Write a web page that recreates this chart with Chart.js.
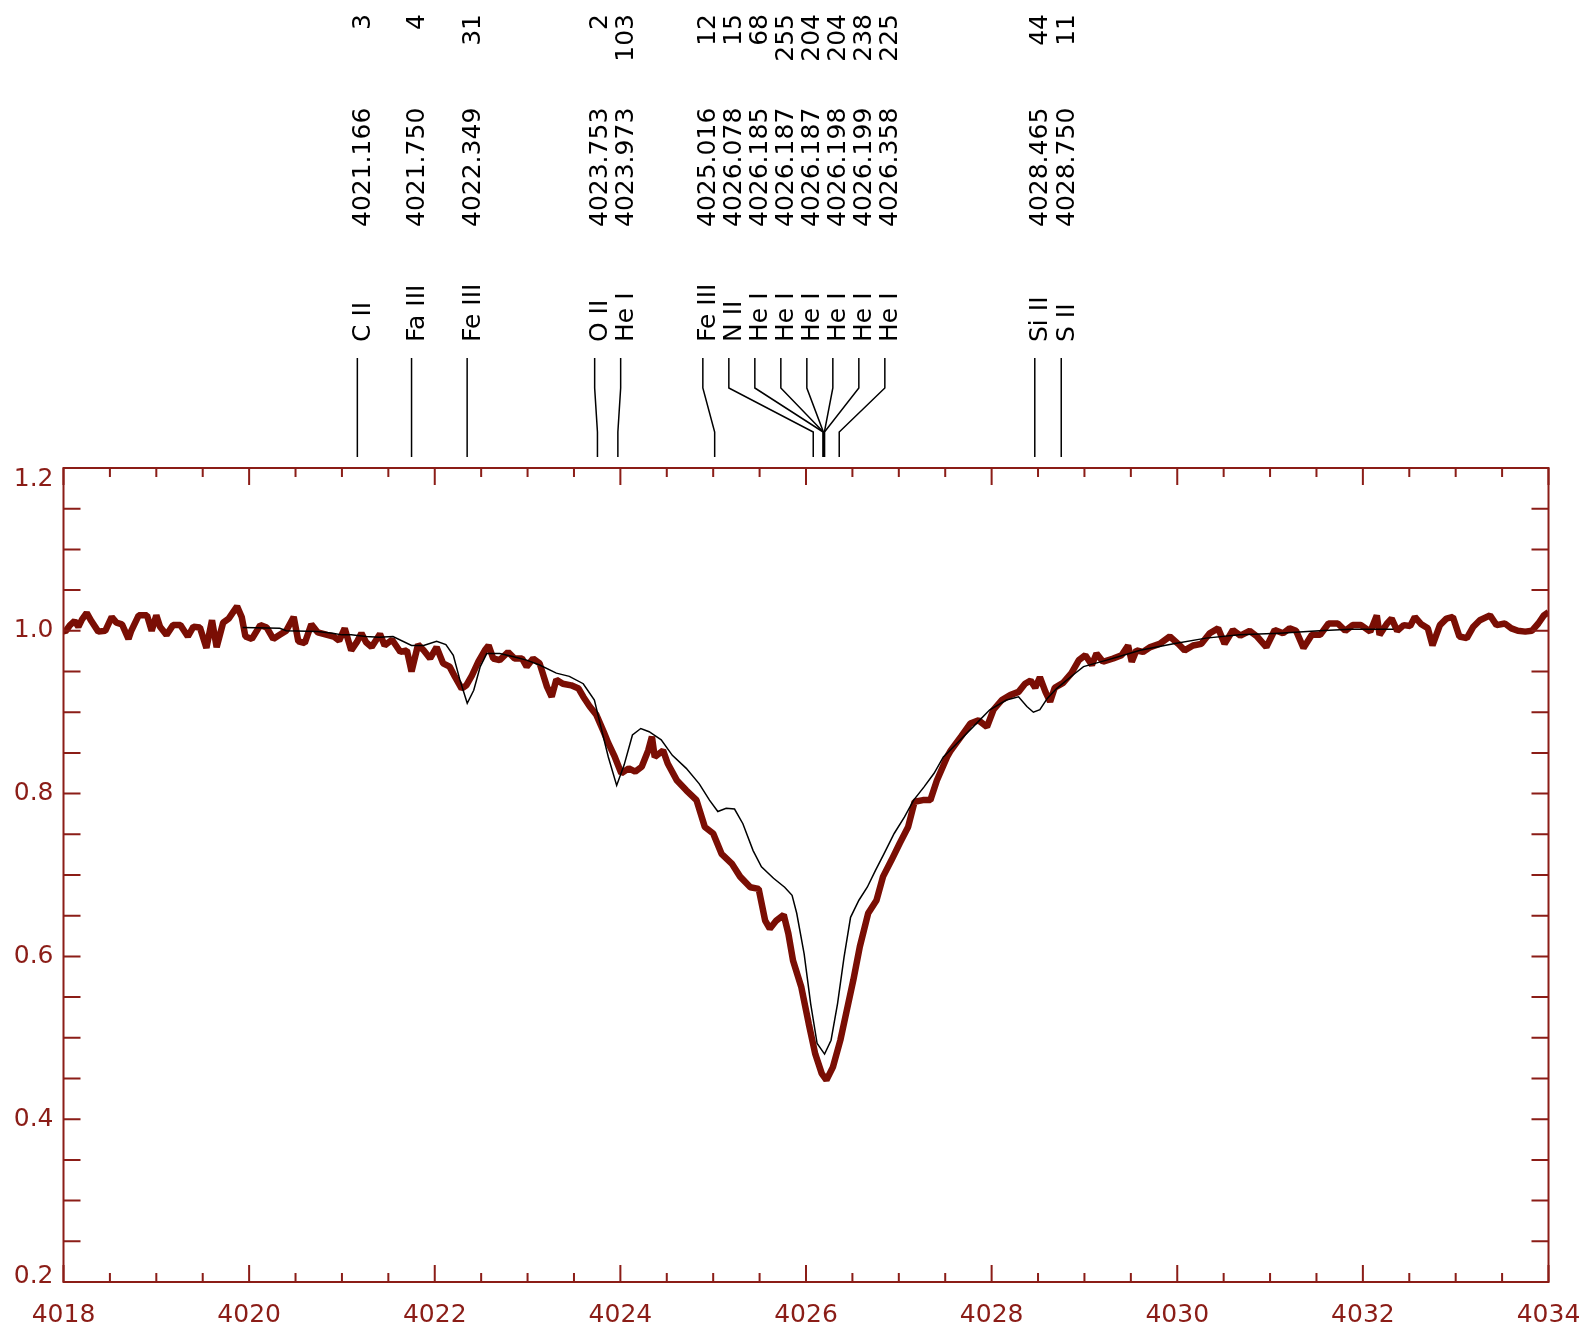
<!DOCTYPE html>
<html>
<head>
<meta charset="utf-8">
<title>He I 4026 line profile</title>
<script src="https://cdn.jsdelivr.net/npm/chart.js@4/dist/chart.umd.min.js"></script>
<style>
    html, body { margin: 0; padding: 0; background: #ffffff; }
    #wrap { width: 1589px; height: 1329px; }
</style>
</head>
<body>
<div id="wrap"><canvas id="spectrumChart" width="1589" height="1329"></canvas></div>
<script>
// Observed spectrum (thick red)
var obsWave = [
    4018.00, 4018.02, 4018.07, 4018.12, 4018.16, 4018.20, 4018.25, 4018.30, 4018.375, 4018.45,
    4018.52, 4018.57, 4018.63, 4018.70, 4018.73, 4018.81, 4018.90, 4018.95, 4019.00, 4019.04,
    4019.11, 4019.18, 4019.26, 4019.34, 4019.40, 4019.47, 4019.54, 4019.60, 4019.65, 4019.72,
    4019.78, 4019.87, 4019.92, 4019.96, 4020.03, 4020.12, 4020.19, 4020.26, 4020.33, 4020.40,
    4020.48, 4020.53, 4020.60, 4020.67, 4020.74, 4020.84, 4020.91, 4020.97, 4021.03, 4021.10,
    4021.16, 4021.21, 4021.26, 4021.32, 4021.41, 4021.46, 4021.54, 4021.63, 4021.70, 4021.75,
    4021.82, 4021.88, 4021.95, 4022.02, 4022.09, 4022.16, 4022.22, 4022.29, 4022.34, 4022.40,
    4022.47, 4022.54, 4022.58, 4022.63, 4022.70, 4022.79, 4022.86, 4022.94, 4022.99, 4023.06,
    4023.13, 4023.21, 4023.26, 4023.31, 4023.38, 4023.47, 4023.55, 4023.60, 4023.67, 4023.74,
    4023.82, 4023.87, 4023.94, 4024.01, 4024.09, 4024.16, 4024.23, 4024.30, 4024.34, 4024.37,
    4024.46, 4024.51, 4024.61, 4024.71, 4024.82, 4024.91, 4025.00, 4025.09, 4025.20, 4025.29,
    4025.40, 4025.49, 4025.56, 4025.61, 4025.68, 4025.76, 4025.81, 4025.86, 4025.95, 4026.03,
    4026.10, 4026.17, 4026.22, 4026.29, 4026.37, 4026.44, 4026.51, 4026.58, 4026.67, 4026.76,
    4026.83, 4026.92, 4027.01, 4027.10, 4027.17, 4027.26, 4027.34, 4027.41, 4027.52, 4027.56,
    4027.67, 4027.77, 4027.86, 4027.95, 4028.02, 4028.11, 4028.20, 4028.29, 4028.36, 4028.42,
    4028.47, 4028.52, 4028.58, 4028.63, 4028.68, 4028.77, 4028.86, 4028.94, 4029.01, 4029.08,
    4029.13, 4029.20, 4029.31, 4029.40, 4029.47, 4029.51, 4029.56, 4029.63, 4029.71, 4029.81,
    4029.92, 4030.01, 4030.08, 4030.17, 4030.26, 4030.35, 4030.44, 4030.51, 4030.60, 4030.68,
    4030.78, 4030.86, 4030.96, 4031.05, 4031.14, 4031.21, 4031.28, 4031.36, 4031.45, 4031.54,
    4031.63, 4031.73, 4031.81, 4031.89, 4031.98, 4032.08, 4032.15, 4032.18, 4032.26, 4032.31,
    4032.37, 4032.44, 4032.51, 4032.56, 4032.63, 4032.70, 4032.75, 4032.83, 4032.90, 4032.97,
    4033.04, 4033.12, 4033.19, 4033.26, 4033.37, 4033.44, 4033.53, 4033.60, 4033.67, 4033.75,
    4033.82, 4033.89, 4033.95, 4034.00
];
var obsFlux = [
    1.000, 0.999, 1.007, 1.012, 1.005, 1.014, 1.022, 1.012, 0.999, 1.000,
    1.017, 1.010, 1.008, 0.990, 1.000, 1.019, 1.019, 1.000, 1.019, 1.005,
    0.995, 1.007, 1.007, 0.993, 1.005, 1.004, 0.979, 1.013, 0.980, 1.010,
    1.015, 1.030, 1.017, 0.993, 0.990, 1.007, 1.004, 0.990, 0.995, 1.000,
    1.017, 0.987, 0.985, 1.008, 0.998, 0.995, 0.993, 0.988, 1.003, 0.976,
    0.986, 0.997, 0.986, 0.980, 0.996, 0.982, 0.989, 0.974, 0.976, 0.950,
    0.983, 0.976, 0.966, 0.980, 0.960, 0.956, 0.943, 0.929, 0.933, 0.945,
    0.962, 0.976, 0.982, 0.966, 0.964, 0.974, 0.966, 0.966, 0.956, 0.966,
    0.960, 0.931, 0.919, 0.940, 0.935, 0.933, 0.929, 0.919, 0.907, 0.897,
    0.876, 0.862, 0.845, 0.825, 0.831, 0.827, 0.833, 0.853, 0.870, 0.845,
    0.853, 0.837, 0.816, 0.804, 0.792, 0.759, 0.751, 0.726, 0.714, 0.698,
    0.685, 0.683, 0.644, 0.634, 0.644, 0.651, 0.628, 0.595, 0.562, 0.517,
    0.480, 0.456, 0.448, 0.464, 0.497, 0.534, 0.571, 0.612, 0.653, 0.669,
    0.698, 0.718, 0.739, 0.759, 0.790, 0.792, 0.792, 0.816, 0.845, 0.853,
    0.870, 0.886, 0.890, 0.882, 0.903, 0.915, 0.921, 0.925, 0.935, 0.939,
    0.930, 0.943, 0.925, 0.913, 0.930, 0.936, 0.948, 0.964, 0.970, 0.958,
    0.972, 0.962, 0.966, 0.970, 0.982, 0.962, 0.976, 0.974, 0.980, 0.984,
    0.993, 0.984, 0.976, 0.982, 0.984, 0.997, 1.003, 0.984, 1.001, 0.994,
    1.000, 0.993, 0.980, 1.001, 0.997, 1.003, 1.000, 0.979, 0.995, 0.995,
    1.009, 1.009, 1.000, 1.007, 1.007, 0.999, 1.019, 0.995, 1.009, 1.015,
    1.000, 1.007, 1.006, 1.017, 1.008, 1.003, 0.982, 1.007, 1.015, 1.017,
    0.993, 0.991, 1.005, 1.013, 1.019, 1.007, 1.009, 1.003, 1.000, 0.999,
    1.000, 1.009, 1.019, 1.023
];

// Synthetic spectrum (thin black)
var modelWave = [
    4019.93, 4020.33, 4020.40, 4020.74, 4020.90, 4021.00, 4021.10, 4021.26, 4021.40, 4021.55,
    4021.75, 4021.88, 4022.02, 4022.12, 4022.20, 4022.27, 4022.35, 4022.42, 4022.49, 4022.56,
    4022.70, 4022.85, 4022.99, 4023.13, 4023.31, 4023.45, 4023.60, 4023.72, 4023.79, 4023.87,
    4023.96, 4024.04, 4024.13, 4024.22, 4024.31, 4024.44, 4024.56, 4024.71, 4024.85, 4024.96,
    4025.05, 4025.14, 4025.23, 4025.32, 4025.43, 4025.52, 4025.65, 4025.77, 4025.85, 4025.90,
    4025.98, 4026.05, 4026.12, 4026.20, 4026.27, 4026.34, 4026.41, 4026.48, 4026.57, 4026.66,
    4026.75, 4026.84, 4026.95, 4027.06, 4027.16, 4027.27, 4027.38, 4027.48, 4027.62, 4027.80,
    4027.98, 4028.16, 4028.29, 4028.38, 4028.45, 4028.52, 4028.60, 4028.70, 4028.88, 4028.99,
    4029.24, 4029.42, 4029.60, 4029.96, 4030.31, 4030.67, 4031.10, 4031.53, 4031.86, 4032.33
];
var modelFlux = [
    1.004, 1.003, 1.000, 0.999, 0.997, 0.995, 0.995, 0.993, 0.992, 0.993,
    0.982, 0.982, 0.987, 0.983, 0.970, 0.940, 0.911, 0.927, 0.956, 0.972,
    0.972, 0.968, 0.964, 0.958, 0.948, 0.944, 0.935, 0.915, 0.882, 0.845,
    0.810, 0.835, 0.872, 0.880, 0.876, 0.866, 0.847, 0.831, 0.812, 0.792,
    0.778, 0.782, 0.781, 0.763, 0.730, 0.710, 0.696, 0.685, 0.675, 0.653,
    0.603, 0.542, 0.493, 0.480, 0.497, 0.542, 0.599, 0.648, 0.669, 0.685,
    0.706, 0.726, 0.751, 0.771, 0.792, 0.808, 0.825, 0.845, 0.861, 0.882,
    0.903, 0.915, 0.919, 0.907, 0.900, 0.903, 0.917, 0.929, 0.946, 0.956,
    0.964, 0.970, 0.976, 0.984, 0.991, 0.995, 0.997, 1.000, 1.002, 1.002
];

// Line identifications
var lineSpecies = ["C II", "Fa III", "Fe III", "O II", "He I", "Fe III", "N II",
    "He I", "He I", "He I", "He I", "He I", "He I", "Si II", "S II"];
var lineWave = [4021.166, 4021.750, 4022.349, 4023.753, 4023.973, 4025.016, 4026.078,
    4026.185, 4026.187, 4026.187, 4026.198, 4026.199, 4026.358, 4028.465, 4028.750];
var lineStrength = ["3", "4", "31", "2", "103", "12", "15", "68", "255", "204", "204", "238", "225", "44", "11"];

var xTickLabels = ["4018", "4020", "4022", "4024", "4026", "4028", "4030", "4032", "4034"];
var yTickLabels = ["0.2", "0.4", "0.6", "0.8", "1.0", "1.2"];

var frameColor = "#8b1d17";
var dataColor = "#7a0e04";
var textFont = "25px 'DejaVu Sans'";

document.addEventListener("DOMContentLoaded", function () {
    setupSpectrumChart();
});

function toPoints(xs, ys) {
    var points = [];
    for (var i = 0; i < xs.length; i++) {
        points.push({ x: xs[i], y: ys[i] });
    }
    return points;
}

function groupCenter(positions, start, end) {
    var sum = 0;
    for (var k = start; k <= end; k++) {
        sum += positions[k];
    }
    var mean = sum / (end - start + 1);
    var mid = (positions[start] + positions[end]) / 2;
    return (mean + mid) / 2;
}

// Spread crowded labels apart. Lines closer than mergeDist end up in one
// crowd, laid out at a fixed gap around the crowd's centre.
function spreadLabels(positions, gap, mergeDist) {
    var groups = [];
    for (var i = 0; i < positions.length; i++) {
        groups.push({ start: i, end: i, center: positions[i] });
    }

    var merged = true;
    while (merged) {
        merged = false;
        for (var g = 0; g < groups.length - 1; g++) {
            var a = groups[g];
            var b = groups[g + 1];
            var aRight = a.center + (a.end - a.start) * gap / 2;
            var bLeft = b.center - (b.end - b.start) * gap / 2;
            if (bLeft - aRight < mergeDist) {
                groups.splice(g, 2, { start: a.start, end: b.end, center: groupCenter(positions, a.start, b.end) });
                merged = true;
                break;
            }
        }
    }

    var result = [];
    groups.forEach(function (grp) {
        var n = grp.end - grp.start;
        var step = n > 0 ? Math.max(gap, (positions[grp.end] - positions[grp.start]) / n) : 0;
        for (var j = 0; j <= n; j++) {
            result.push(grp.center + (j - n / 2) * step);
        }
    });
    return result;
}

function drawFrame(chart) {
    var ctx = chart.ctx;
    var area = chart.chartArea;
    var xScale = chart.scales.x;
    var yScale = chart.scales.y;

    ctx.save();
    ctx.strokeStyle = frameColor;
    ctx.lineWidth = 2;
    ctx.strokeRect(area.left, area.top, area.right - area.left, area.bottom - area.top);

    ctx.beginPath();
    for (var i = 0; i <= 32; i++) {
        var xv = 4018 + i * 0.5;
        var px = xScale.getPixelForValue(xv);
        var len = (i % 4 === 0) ? 17 : 9;
        ctx.moveTo(px, area.bottom);
        ctx.lineTo(px, area.bottom - len);
        ctx.moveTo(px, area.top);
        ctx.lineTo(px, area.top + len);
    }
    for (var j = 0; j <= 20; j++) {
        var py = yScale.getPixelForValue(0.2 + j * 0.05);
        ctx.moveTo(area.left, py);
        ctx.lineTo(area.left + 17, py);
        ctx.moveTo(area.right, py);
        ctx.lineTo(area.right - 17, py);
    }
    ctx.stroke();

    ctx.fillStyle = frameColor;
    ctx.font = textFont;
    ctx.textBaseline = "middle";
    ctx.textAlign = "center";
    xTickLabels.forEach(function (label) {
        ctx.fillText(label, xScale.getPixelForValue(Number(label)), area.bottom + 33);
    });
    ctx.textAlign = "right";
    yTickLabels.forEach(function (label) {
        var y = yScale.getPixelForValue(Number(label));
        y = Math.min(Math.max(y, area.top + 11), area.bottom - 6);
        ctx.fillText(label, area.left - 10, y);
    });
    ctx.restore();
}

function drawRotated(ctx, text, x, y, align) {
    ctx.save();
    ctx.translate(x, y);
    ctx.rotate(-Math.PI / 2);
    ctx.textAlign = align;
    ctx.fillText(text, 0, 0);
    ctx.restore();
}

function drawLineIds(chart) {
    var ctx = chart.ctx;
    var top = chart.chartArea.top;
    var xScale = chart.scales.x;

    var linePx = lineWave.map(function (w) { return xScale.getPixelForValue(w); });
    var labelPx = spreadLabels(linePx, 26, 34);

    ctx.save();
    ctx.strokeStyle = "#000000";
    ctx.lineWidth = 1.5;
    for (var i = 0; i < linePx.length; i++) {
        ctx.beginPath();
        ctx.moveTo(labelPx[i], top - 110);
        if (Math.abs(labelPx[i] - linePx[i]) < 1) {
            ctx.lineTo(labelPx[i], top - 11);
        } else {
            ctx.lineTo(labelPx[i], top - 80);
            ctx.lineTo(linePx[i], top - 36);
            ctx.lineTo(linePx[i], top - 11);
        }
        ctx.stroke();
    }

    ctx.fillStyle = "#000000";
    ctx.font = textFont;
    ctx.textBaseline = "middle";
    for (var k = 0; k < linePx.length; k++) {
        var tx = labelPx[k] + 6;
        drawRotated(ctx, lineSpecies[k], tx, top - 126, "left");
        drawRotated(ctx, lineWave[k].toFixed(3), tx, top - 241, "left");
        drawRotated(ctx, lineStrength[k], tx, 14, "right");
    }
    ctx.restore();
}

var idlFramePlugin = {
    id: "idlFrame",
    afterDatasetsDraw: function (chart) {
        drawFrame(chart);
        drawLineIds(chart);
    }
};

function setupSpectrumChart() {
    var canvas = document.getElementById("spectrumChart");

    if (canvas == null || typeof Chart === "undefined") {
        return;
    }

    new Chart(canvas, {
        type: "scatter",
        data: {
            datasets: [
                {
                    label: "Model",
                    data: toPoints(modelWave, modelFlux),
                    showLine: true,
                    borderColor: "#000000",
                    borderWidth: 1.5,
                    pointRadius: 0,
                    fill: false
                },
                {
                    label: "Observed",
                    data: toPoints(obsWave, obsFlux),
                    showLine: true,
                    borderColor: dataColor,
                    borderWidth: 6.5,
                    borderJoinStyle: "bevel",
                    pointRadius: 0,
                    fill: false
                }
            ]
        },
        options: {
            responsive: false,
            animation: false,
            events: [],
            layout: {
                padding: { left: 63.5, right: 40.5, top: 468, bottom: 47 }
            },
            plugins: {
                legend: { display: false },
                tooltip: { enabled: false }
            },
            scales: {
                x: { type: "linear", min: 4018, max: 4034, display: false },
                y: { type: "linear", min: 0.2, max: 1.2, display: false }
            }
        },
        plugins: [idlFramePlugin]
    });
}
</script>
</body>
</html>
